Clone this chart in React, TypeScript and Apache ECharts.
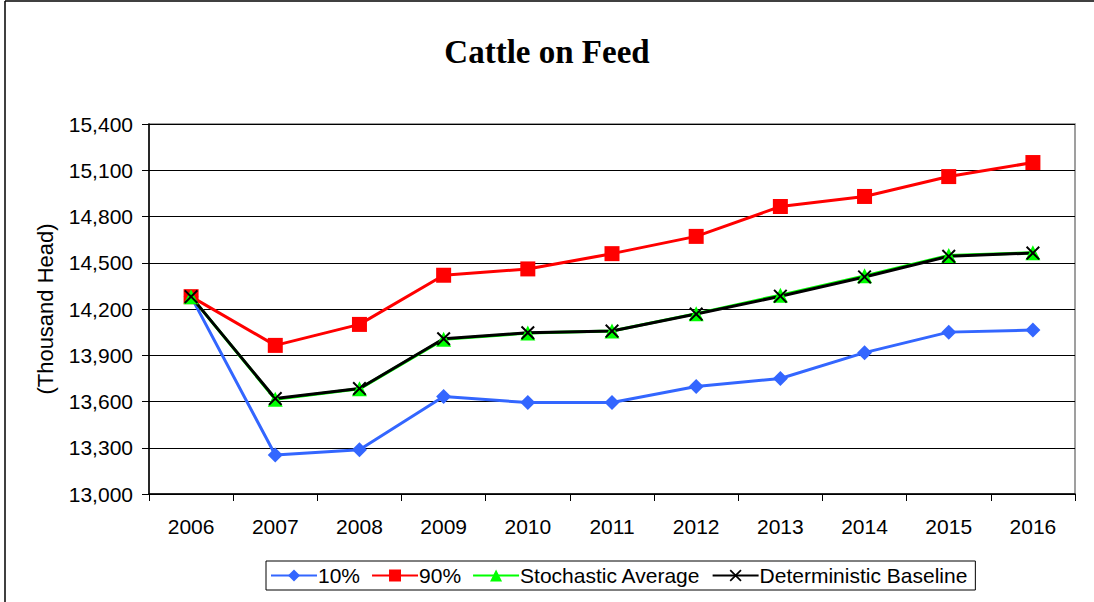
import React, { useEffect, useRef } from "react";
import * as echarts from "echarts";

const years = ["2006", "2007", "2008", "2009", "2010", "2011", "2012", "2013", "2014", "2015", "2016"];
const p10 = [14280, 13253, 13287, 13632, 13593, 13593, 13697, 13749, 13917, 14050, 14063];
const p90 = [14280, 13964, 14100, 14419, 14460, 14559, 14671, 14865, 14930, 15059, 15150];
const stochAvg = [14280, 13615, 13682, 14003, 14044, 14057, 14170, 14290, 14415, 14547, 14565];
const baseline = [14280, 13619, 13684, 14007, 14046, 14057, 14167, 14283, 14408, 14542, 14563];

const FONT = "'Liberation Sans', Arial, sans-serif";
const XSYM = "path://M0,1L1,0L5,4L9,0L10,1L6,5L10,9L9,10L5,6L1,10L0,9L4,5Z";

export default function App() {
  const ref = useRef<HTMLDivElement>(null);
  useEffect(() => {
    const chart = echarts.init(ref.current!, null, { renderer: "svg" });
    chart.setOption({
      animation: false,
      backgroundColor: "#fff",
      title: {
        text: "Cattle on Feed",
        left: "center",
        top: 30,
        textStyle: { fontFamily: "'Liberation Serif', 'Times New Roman', serif", fontSize: 33, fontWeight: "bold", color: "#000" },
      },
      graphic: [
        { type: "line", shape: { x1: 5, y1: 1, x2: 1094, y2: 1 }, style: { stroke: "#000", lineWidth: 1.5 } },
        { type: "line", shape: { x1: 5, y1: 1, x2: 5, y2: 602 }, style: { stroke: "#000", lineWidth: 1.5 } },
      ],
      grid: { left: 149, top: 124, right: 19, bottom: 108, show: true, borderColor: "#808080", borderWidth: 1.5 },
      legend: {
        left: 266,
        top: 561,
        itemWidth: 46,
        itemHeight: 15,
        itemGap: 11,
        padding: [4, 8, 4, 4],
        borderColor: "#000",
        borderWidth: 1,
        textStyle: { fontFamily: FONT, fontSize: 21, color: "#000", padding: [0, 0, 0, -4] },
        data: ["10%", "90%", "Stochastic Average", "Deterministic Baseline"],
      },
      xAxis: {
        type: "category",
        data: years,
        boundaryGap: true,
        axisLine: { lineStyle: { color: "#000", width: 1.5 } },
        axisTick: { show: true, interval: 0, length: 7, lineStyle: { color: "#000" } },
        axisLabel: { fontFamily: FONT, fontSize: 21, color: "#000", margin: 22 },
      },
      yAxis: {
        type: "value",
        min: 13000,
        max: 15400,
        interval: 300,
        name: "(Thousand Head)",
        nameLocation: "middle",
        nameGap: 93,
        nameTextStyle: { fontFamily: FONT, fontSize: 22, color: "#000" },
        axisLine: { show: true, lineStyle: { color: "#000", width: 1.5 } },
        axisTick: { show: true, length: 7, lineStyle: { color: "#000" } },
        axisLabel: {
          fontFamily: FONT,
          fontSize: 21,
          color: "#000",
          margin: 16,
          formatter: (v: number) => v.toLocaleString("en-US"),
        },
        splitLine: { show: true, lineStyle: { color: "#000", width: 1 } },
      },
      series: [
        {
          name: "10%",
          type: "line",
          data: p10,
          symbol: "diamond",
          symbolSize: 15,
          lineStyle: { color: "#3366FF", width: 3 },
          itemStyle: { color: "#3366FF" },
        },
        {
          name: "90%",
          type: "line",
          data: p90,
          symbol: "rect",
          symbolSize: 15,
          lineStyle: { color: "#FF0000", width: 3 },
          itemStyle: { color: "#FF0000" },
        },
        {
          name: "Stochastic Average",
          type: "line",
          data: stochAvg,
          symbol: "triangle",
          symbolSize: 15,
          lineStyle: { color: "#00FF00", width: 3 },
          itemStyle: { color: "#00FF00" },
        },
        {
          name: "Deterministic Baseline",
          type: "line",
          data: baseline,
          symbol: XSYM,
          symbolSize: 14,
          lineStyle: { color: "#000000", width: 3 },
          itemStyle: { color: "#000000" },
        },
      ],
    });
    return () => chart.dispose();
  }, []);
  return <div ref={ref} style={{ position: "fixed", left: 0, top: 0, width: 1094, height: 602 }} />;
}
